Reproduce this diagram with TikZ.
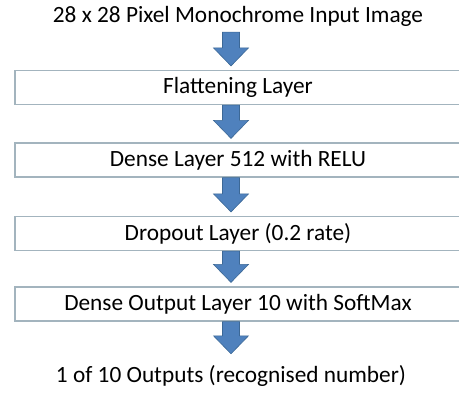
\documentclass[tikz,border=0pt]{standalone}
\usepackage{fontspec}
\setmainfont{Carlito}
\usetikzlibrary{calc}

\definecolor{arrowblue}{HTML}{4F81BD}
\definecolor{arrowedge}{HTML}{3C6896}
\definecolor{boxline}{HTML}{A3B4BE}

\tikzset{
  layer/.style={draw=boxline, line width=1.2pt, fill=white,
    minimum width=446pt, minimum height=34pt, inner sep=0pt},
  endtext/.style={inner sep=0pt, minimum height=#1},
  downarrow/.style={fill=arrowblue, draw=arrowedge, line width=0.6pt, line join=miter}
}

% block arrow from the bottom of #1 to just above #2
\newcommand{\blockarrow}[2]{%
  \draw[downarrow] let \p1=($(#1.south)+(-7,0)$), \p2=(#2.north) in
    (\x1-8.5pt,\y1) -- (\x1+8.5pt,\y1) -- (\x1+8.5pt,\y2+22pt)
    -- (\x1+17.5pt,\y2+22pt) -- (\x1,\y2+4pt) -- (\x1-17.5pt,\y2+22pt)
    -- (\x1-8.5pt,\y2+22pt) -- cycle;
}

\begin{document}
\begin{tikzpicture}[x=1pt, y=1pt, font=\fontsize{23.3}{28}\selectfont]
\useasboundingbox (0,0) rectangle (459,392);

\node[endtext=32pt] (input) at (238,376) {28 x 28 Pixel Monochrome Input Image};
\node[layer] (flat) at (238,304.5) {Flattening Layer};
\node[layer] (dense) at (238,232) {Dense Layer 512 with RELU};
\node[layer] (drop) at (238,158.5) {Dropout Layer (0.2 rate)};
\node[layer] (out) at (238,88) {Dense Output Layer 10 with SoftMax};
\node[endtext=36pt] (result) at (231,16) {1 of 10 Outputs (recognised number)};

\blockarrow{input}{flat}
\blockarrow{flat}{dense}
\blockarrow{dense}{drop}
\blockarrow{drop}{out}
\blockarrow{out}{result}
\end{tikzpicture}
\end{document}
